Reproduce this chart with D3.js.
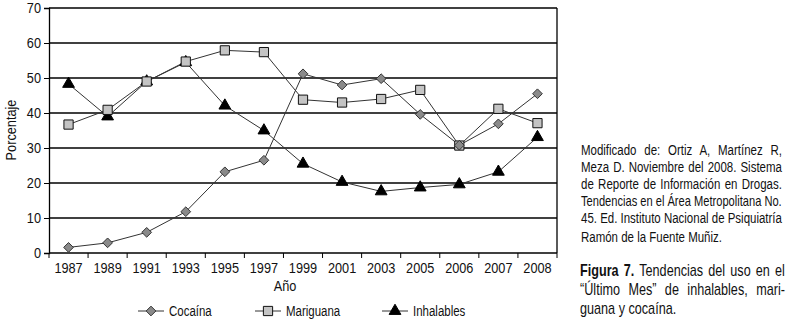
<!DOCTYPE html>
<html>
<head>
<meta charset="utf-8">
<script src="https://cdn.jsdelivr.net/npm/d3@7"></script>
<style>
  body { margin: 0; background: #fff; }
  svg { display: block; font-family: "Liberation Sans", Arial, sans-serif; }
</style>
</head>
<body>
<div id="container"></div>
<script>
/* DATA */
const years = ["1987", "1989", "1991", "1993", "1995", "1997", "1999", "2001", "2003", "2005", "2006", "2007", "2008"];
const cocaina = [1.6, 2.9, 5.9, 11.8, 23.2, 26.5, 51.2, 48.0, 49.8, 39.6, 30.8, 36.9, 45.5];
const mariguana = [36.7, 40.9, 49.0, 54.7, 57.9, 57.4, 43.8, 43.0, 44.0, 46.6, 30.7, 41.2, 37.1];
const inhalables = [48.3, 39.0, 49.0, 54.5, 42.1, 35.0, 25.5, 20.3, 17.6, 18.7, 19.6, 23.2, 33.1];
const yTicks = [0, 10, 20, 30, 40, 50, 60, 70];

const sourceLines = [
  "Modificado de: Ortiz A, Martínez R,",
  "Meza D. Noviembre del 2008. Sistema",
  "de Reporte de Información en Drogas.",
  "Tendencias en el Área Metropolitana No.",
  "45. Ed. Instituto Nacional de Psiquiatría",
  "Ramón de la Fuente Muñiz."
];
const captionLines = [
  ["Figura 7.", " Tendencias del uso en el"],
  ["", "“Último Mes” de inhalables, mari-"],
  ["", "guana y cocaína."]
];

/* CONSTANTS */
const width = 787, height = 323;
const margin = { top: 8, left: 49 };
const plotRight = 557, plotBottom = 253;
const squeeze = 0.82; // narrow typeface look

const svg = d3.select("#container")
  .append("svg")
  .attr("width", width)
  .attr("height", height)

/* SCALES */
const xBand = d3.scaleBand()
  .domain(years)
  .range([margin.left, plotRight])
  .paddingInner(0).paddingOuter(0)

const x = d => xBand(d) + xBand.bandwidth() / 2

const yScale = d3.scaleLinear()
  .domain([0, 70])
  .range([plotBottom, margin.top])

// gridlines
svg.append("g")
  .selectAll("line")
  .data(yTicks.filter(d => d > 0))
  .join("line")
  .attr("x1", margin.left)
  .attr("x2", plotRight)
  .attr("y1", d => yScale(d))
  .attr("y2", d => yScale(d))
  .attr("stroke", "#000")
  .attr("stroke-width", 1.3)

// right border
svg.append("line")
  .attr("x1", plotRight).attr("x2", plotRight)
  .attr("y1", yScale(70)).attr("y2", yScale(0))
  .attr("stroke", "#000").attr("stroke-width", 1.3)

// y axis
const yAxis = d3.axisLeft(yScale).tickValues(yTicks).tickSize(5).tickPadding(3)
const gy = svg.append("g")
  .attr("transform", `translate(${margin.left},0)`)
  .call(yAxis)
gy.select(".domain").attr("stroke", "#000").attr("stroke-width", 1.3)
gy.selectAll("text").attr("font-size", 15.5).attr("fill", "#111").attr("font-family", null)

// x axis: labels centred, ticks at category boundaries
const gx = svg.append("g")
  .attr("transform", `translate(0,${plotBottom})`)
gx.append("line")
  .attr("x1", margin.left).attr("x2", plotRight)
  .attr("stroke", "#000").attr("stroke-width", 1.3)
gx.selectAll("line.tick")
  .data(years.concat(["end"]))
  .join("line")
  .attr("class", "tick")
  .attr("x1", (d, i) => margin.left + i * xBand.bandwidth())
  .attr("x2", (d, i) => margin.left + i * xBand.bandwidth())
  .attr("y1", 0).attr("y2", 5)
  .attr("stroke", "#000")
gx.selectAll("text")
  .data(years)
  .join("text")
  .attr("x", d => x(d))
  .attr("y", 19.5)
  .attr("text-anchor", "middle")
  .attr("font-size", 15.5)
  .attr("fill", "#111")
  .text(d => d)

// axis titles
svg.append("text")
  .attr("transform", `translate(16,130) rotate(-90)`)
  .attr("text-anchor", "middle")
  .attr("font-size", 15.5)
  .attr("fill", "#111")
  .text("Porcentaje")

svg.append("text")
  .attr("x", 285).attr("y", 291)
  .attr("text-anchor", "middle")
  .attr("font-size", 15.5)
  .attr("fill", "#111")
  .text("Año")

/* SERIES */
const series = [
  { name: "Cocaína", values: cocaina, symbol: d3.symbolDiamond2, size: 60, fill: "#8a8a8a", stroke: "#333" },
  { name: "Mariguana", values: mariguana, symbol: d3.symbolSquare, size: 85, fill: "#c4c4c4", stroke: "#111" },
  { name: "Inhalables", values: inhalables, symbol: d3.symbolTriangle, size: 60, fill: "#000", stroke: "#000" }
]

const line = d3.line()
  .x((d, i) => x(years[i]))
  .y(d => yScale(d))

series.forEach(s => {
  svg.append("path")
    .datum(s.values)
    .attr("fill", "none")
    .attr("stroke", "#333")
    .attr("stroke-width", 1)
    .attr("d", line)
})

const symbolPath = s => d3.symbol(s.symbol, s.size)()

series.slice().reverse().forEach(s => {
  svg.append("g")
    .selectAll("path")
    .data(s.values)
    .join("path")
    .attr("transform", (d, i) => `translate(${x(years[i])},${yScale(d)})`)
    .attr("d", symbolPath(s))
    .attr("fill", s.fill)
    .attr("stroke", s.stroke)
    .attr("stroke-width", 1)
})

/* LEGEND */
const legendX = [138, 255, 382]
const legend = svg.append("g")
  .selectAll("g")
  .data(series)
  .join("g")
  .attr("transform", (d, i) => `translate(${legendX[i]},311)`)
legend.append("line")
  .attr("x1", 0).attr("x2", 26)
  .attr("stroke", "#333")
legend.append("path")
  .attr("transform", "translate(13,0)")
  .attr("d", d => symbolPath(d))
  .attr("fill", d => d.fill)
  .attr("stroke", d => d.stroke)
legend.append("text")
  .attr("x", 31).attr("y", 5)
  .attr("font-size", 14)
  .attr("fill", "#111")
  .text(d => d.name)

// condense the chart labels to mimic the narrow typeface
svg.selectAll("text").each(function () {
  const w = this.getComputedTextLength()
  d3.select(this)
    .attr("textLength", w * squeeze)
    .attr("lengthAdjust", "spacingAndGlyphs")
})

/* SIDE TEXT (justified, narrow) */
// glyphs squeezed with a scale, spare room spread over the word gaps
function justify(sel, x0, target, s0, last) {
  sel.each(function () {
    const t = d3.select(this)
    const w = this.getComputedTextLength()
    const gaps = (t.text().match(/ /g) || []).length
    let s = s0
    let ws = 0
    if (!last && gaps > 0) {
      ws = (target / s - w) / gaps
      if (ws < 0) { s = target / w; ws = 0 }
    }
    t.attr("word-spacing", ws)
      .attr("transform", `translate(${x0},0) scale(${s},1)`)
  })
}

const sourceY = [155, 172, 189, 206, 223, 242]
const side = svg.append("g").attr("font-size", 14).attr("fill", "#111")
side.selectAll("text")
  .data(sourceLines)
  .join("text")
  .attr("x", 0)
  .attr("y", (d, i) => sourceY[i])
  .text(d => d)
  .each(function (d, i) {
    justify(d3.select(this), 581, 201, 0.82, i === sourceLines.length - 1)
  })

const captionY = [276.5, 295.5, 314]
const fig = svg.append("g").attr("font-size", 15.8).attr("fill", "#111")
fig.selectAll("text")
  .data(captionLines)
  .join("text")
  .attr("x", 0)
  .attr("y", (d, i) => captionY[i])
  .each(function (d) {
    const t = d3.select(this)
    if (d[0]) t.append("tspan").attr("font-weight", "bold").text(d[0])
    t.append("tspan").text(d[1])
  })
  .each(function (d, i) {
    justify(d3.select(this), 580, 205, 0.8, i === captionLines.length - 1)
  })
</script>
</body>
</html>
